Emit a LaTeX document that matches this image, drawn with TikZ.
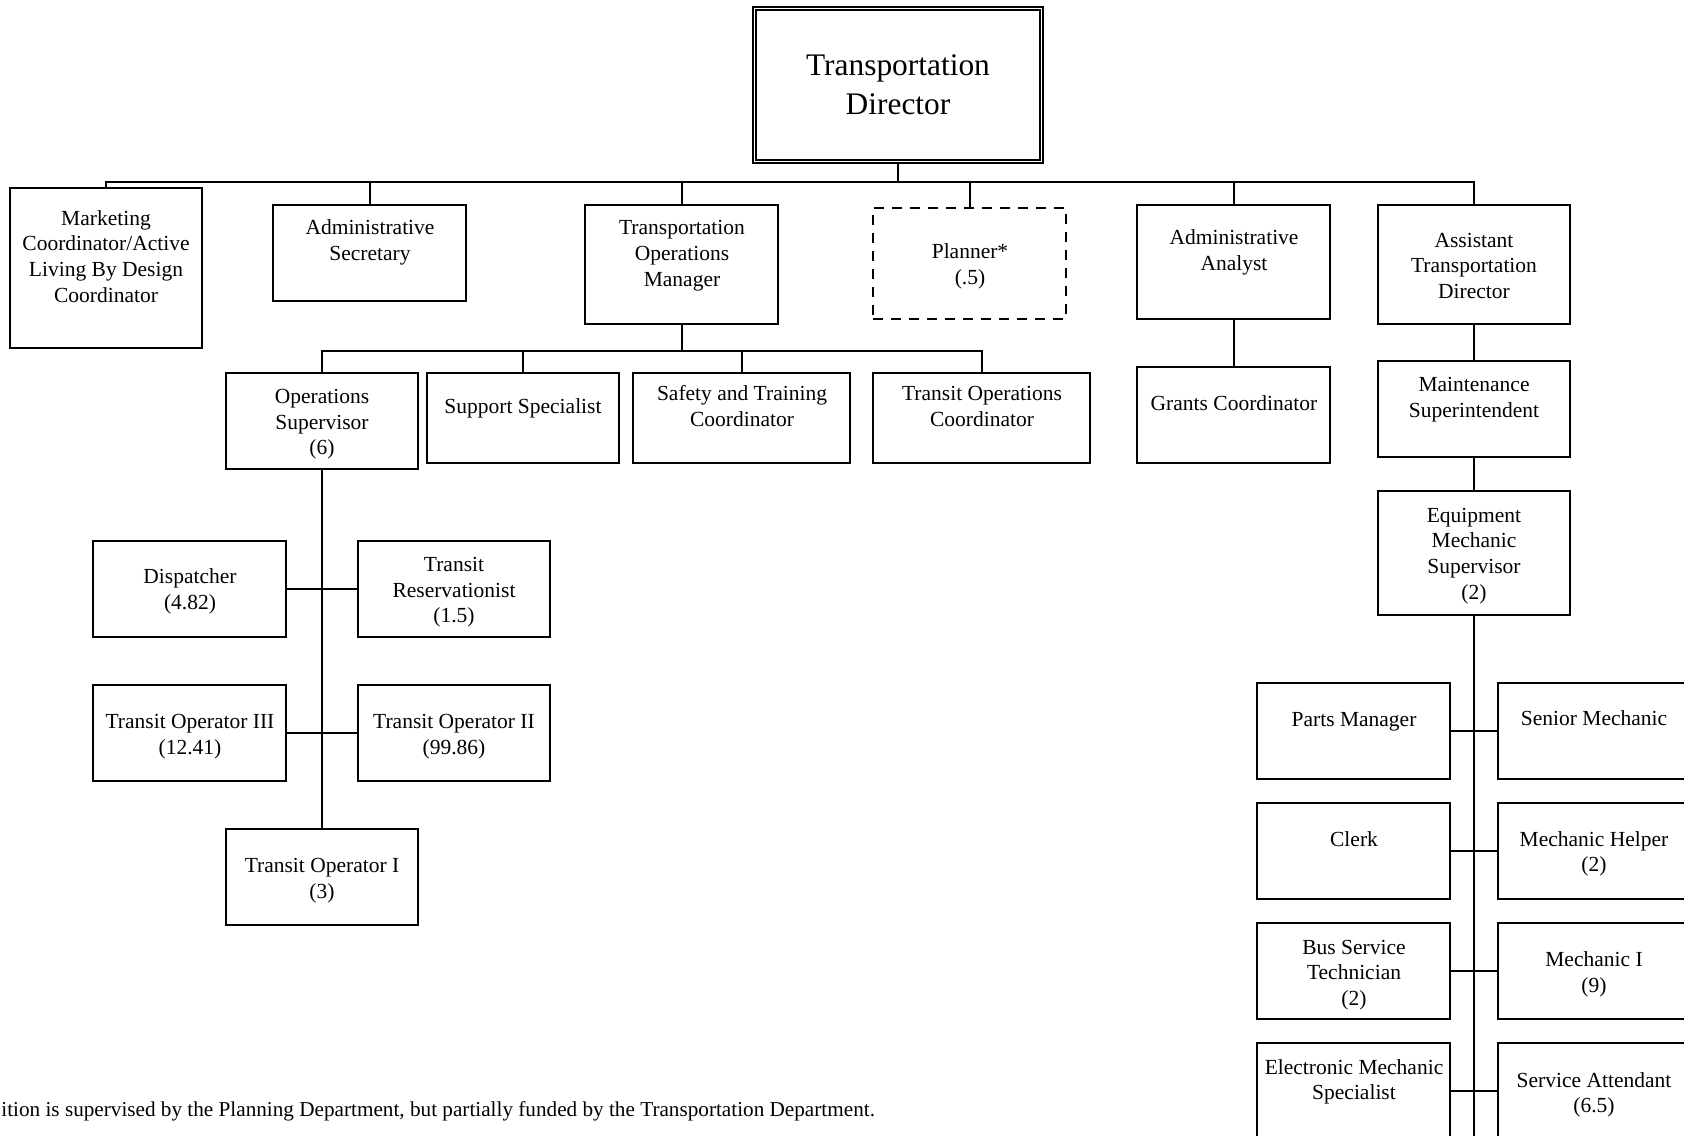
\documentclass[tikz,border=0pt]{standalone}
\usepackage{fontspec}
\setmainfont{Liberation Serif}
\usetikzlibrary{fit}
\begin{document}
\begin{tikzpicture}[x=0.5pt,y=-0.5pt,
  box/.style={draw, line width=1pt, inner sep=0pt, rectangle},
  dbox/.style={box, dash pattern=on 5pt off 4pt},
  txt/.style={align=center, inner sep=0pt, font=\fontsize{10.75pt}{12.9pt}\selectfont},
  bigtxt/.style={align=center, inner sep=0pt, font=\fontsize{15.7pt}{19.4pt}\selectfont},
  notetxt/.style={inner sep=0pt, font=\fontsize{10.6pt}{12.9pt}\selectfont},
  conn/.style={line width=1pt}]
\useasboundingbox (0,0) rectangle (1684,1135);
\clip (0,0) rectangle (1684,1135);
\fill[white] (0,0) rectangle (1684,1135);

% boxes
\node[box, fit={(753,7) (1043,163)}] (dir) {};
\draw[line width=1pt] ([shift={(4,4)}]dir.north west) rectangle ([shift={(-4,-4)}]dir.south east);
\node[box, fit={(10,188) (202,348)}] (mkt) {};
\node[box, fit={(273,205) (466,301)}] (sec) {};
\node[box, fit={(585,205) (778,324)}] (tom) {};
\node[dbox, fit={(873,208) (1066,319)}] (pln) {};
\node[box, fit={(1137,205) (1330,319)}] (ana) {};
\node[box, fit={(1378,205) (1570,324)}] (ast) {};
\node[box, fit={(226,373) (418,469)}] (ops) {};
\node[box, fit={(427,373) (619,463)}] (sup) {};
\node[box, fit={(633,373) (850,463)}] (saf) {};
\node[box, fit={(873,373) (1090,463)}] (toc) {};
\node[box, fit={(1137,367) (1330,463)}] (gra) {};
\node[box, fit={(1378,361) (1570,457)}] (mnt) {};
\node[box, fit={(1378,491) (1570,615)}] (ems) {};
\node[box, fit={(93,541) (286,637)}] (dsp) {};
\node[box, fit={(358,541) (550,637)}] (res) {};
\node[box, fit={(93,685) (286,781)}] (op3) {};
\node[box, fit={(358,685) (550,781)}] (op2) {};
\node[box, fit={(226,829) (418,925)}] (op1) {};
\node[box, fit={(1257,683) (1450,779)}] (pm) {};
\node[box, fit={(1498,683) (1691,779)}] (sm) {};
\node[box, fit={(1257,803) (1450,899)}] (clk) {};
\node[box, fit={(1498,803) (1691,899)}] (mh) {};
\node[box, fit={(1257,923) (1450,1019)}] (bst) {};
\node[box, fit={(1498,923) (1691,1019)}] (mi) {};
\node[box, fit={(1257,1043) (1450,1139)}] (el) {};
\node[box, fit={(1498,1043) (1691,1139)}] (sa) {};

% texts
\node[bigtxt] (t-dir) at (898,85) {Transportation\\Director};
\node[txt] (t-mkt) at (106,256.5) {Marketing\\Coordinator/Active\\Living By Design\\Coordinator};
\node[txt] (t-sec) at (370,242.7) {Administrative\\Secretary};
\node[txt] (t-tom) at (682,255.8) {Transportation\\Operations\\Manager};
\node[txt] (t-pln) at (970,266.7) {Planner*\\(.5)};
\node[txt] (t-ana) at (1234,252.2) {Administrative\\Analyst};
\node[txt] (t-ast) at (1474,265.8) {Assistant\\Transportation\\Director};
\node[txt] (t-ops) at (322,424.2) {Operations\\Supervisor\\(6)};
\node[txt] (t-sup) at (523,408.1) {Support Specialist};
\node[txt] (t-saf) at (742,406.1) {Safety and Training\\Coordinator};
\node[txt] (t-toc) at (982,406.1) {Transit Operations\\Coordinator};
\node[txt] (t-gra) at (1234,403.1) {Grants Coordinator};
\node[txt] (t-mnt) at (1474,399.8) {Maintenance\\Superintendent};
\node[txt] (t-ems) at (1474,556) {Equipment\\Mechanic\\Supervisor\\(2)};
\node[txt] (t-dsp) at (190,591.7) {Dispatcher\\(4.82)};
\node[txt] (t-res) at (454,592.2) {Transit\\Reservationist\\(1.5)};
\node[txt] (t-op3) at (190,736.8) {Transit Operator III\\(12.41)};
\node[txt] (t-op2) at (454,736.8) {Transit Operator II\\(99.86)};
\node[txt] (t-op1) at (322,880.8) {Transit Operator I\\(3)};
\node[txt] (t-pm) at (1354,721.3) {Parts Manager};
\node[txt] (t-sm) at (1594,718.1) {Senior Mechanic};
\node[txt] (t-clk) at (1354,839.1) {Clerk};
\node[txt] (t-mh) at (1594,853.8) {Mechanic Helper\\(2)};
\node[txt] (t-bst) at (1354,975) {Bus Service\\Technician\\(2)};
\node[txt] (t-mi) at (1594,974.3) {Mechanic I\\(9)};
\node[txt] (t-el) at (1354,1081.8) {Electronic Mechanic\\Specialist};
\node[txt] (t-sa) at (1594,1094.8) {Service Attendant\\(6.5)};
\node[notetxt, anchor=west] (foot) at (1,1111.2) {ition is supervised by the Planning Department, but partially funded by the Transportation Department.};

% connectors
\coordinate (bus) at (0,182);
\coordinate (sub) at (0,351);
\coordinate (vend) at (0,1145);
\draw[conn] (dir.south) -- (dir.south |- bus);
\draw[conn] (mkt.north) -- (mkt.north |- bus) -- (ast.north |- bus) -- (ast.north);
\foreach \n in {sec,tom,pln,ana} \draw[conn] (\n.north) -- (\n.north |- bus);
\draw[conn] (tom.south) -- (tom.south |- sub);
\draw[conn] (ops.north) -- (ops.north |- sub) -- (toc.north |- sub) -- (toc.north);
\foreach \n in {sup,saf} \draw[conn] (\n.north) -- (\n.north |- sub);
\draw[conn] (ops.south) -- (op1.north);
\draw[conn] (dsp.east) -- (res.west);
\draw[conn] (op3.east) -- (op2.west);
\draw[conn] (ana.south) -- (gra.north);
\draw[conn] (ast.south) -- (mnt.north);
\draw[conn] (mnt.south) -- (ems.north);
\draw[conn] (ems.south) -- (ems.south |- vend);
\draw[conn] (pm.east) -- (sm.west);
\draw[conn] (clk.east) -- (mh.west);
\draw[conn] (bst.east) -- (mi.west);
\draw[conn] (el.east) -- (sa.west);
\end{tikzpicture}
\end{document}
